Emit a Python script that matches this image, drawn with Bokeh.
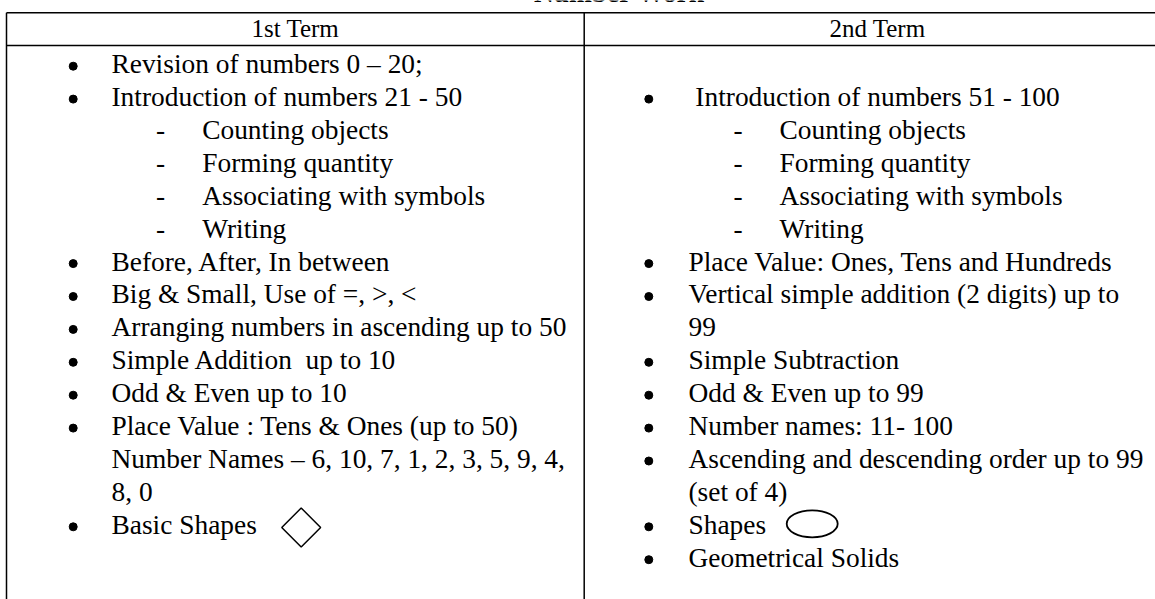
from bokeh.plotting import figure
from bokeh.models import Range1d, ColumnDataSource
from bokeh.core.properties import value
from bokeh.embed import file_html
from bokeh.resources import INLINE
import numpy as np

# ---------------- content ----------------
TITLE = "Number Work"
HEADERS = ["1st Term", "2nd Term"]

LEFT_ITEMS = [
    "Revision of numbers 0 \u2013 20;",
    "Introduction of numbers 21 - 50",
    "Counting objects",
    "Forming quantity",
    "Associating with symbols",
    "Writing",
    "Before, After, In between",
    "Big & Small, Use of =, >, <",
    "Arranging numbers in ascending up to 50",
    "Simple Addition \u00a0up to 10",
    "Odd & Even up to 10",
    "Place Value : Tens & Ones (up to 50)",
    "Number Names \u2013 6, 10, 7, 1, 2, 3, 5, 9, 4,",
    "8, 0",
    "Basic Shapes",
]
LEFT_KINDS = ["bullet", "bullet", "dash", "dash", "dash", "dash", "bullet", "bullet",
              "bullet", "bullet", "bullet", "bullet", "cont", "cont", "bullet"]

RIGHT_ITEMS = [
    "\u00a0Introduction of numbers 51 - 100",
    "Counting objects",
    "Forming quantity",
    "Associating with symbols",
    "Writing",
    "Place Value: Ones, Tens and Hundreds",
    "Vertical simple addition (2 digits) up to",
    "99",
    "Simple Subtraction",
    "Odd & Even up to 99",
    "Number names: 11- 100",
    "Ascending and descending order up to 99",
    "(set of 4)",
    "Shapes",
    "Geometrical Solids",
]
RIGHT_KINDS = ["bullet", "dash", "dash", "dash", "dash", "bullet", "bullet", "cont",
               "bullet", "bullet", "bullet", "bullet", "cont", "bullet", "bullet"]
RIGHT_FIRST_LINE = 1          # right column starts one line lower
LEFT_SHAPE_LINE = 14          # diamond after "Basic Shapes"
RIGHT_SHAPE_LINE = 14         # oval after "Shapes"

# ---------------- layout (pixels) ----------------
W, H = 1155, 599
FONT = "Liberation Serif"
BODY_SIZE = "27.4px"
HEAD_SIZE = "25px"
TDY = -9.7                    # correction of the rendered text baseline

TOP_Y = 12.3
HEAD_Y = 45.0
LEFT_X = 6.0
DIV_X = 583.7
LINE0 = 73.3
LH = 32.9

COLS = [
    dict(bullet=72.7, text=111.0, dash=155.5, sub=201.7),
    dict(bullet=648.3, text=688.0, dash=733.0, sub=779.0),
]


def base(i):
    return LINE0 + i * LH


p = figure(width=W, height=H, output_backend="svg", toolbar_location=None,
           x_range=Range1d(0, W), y_range=Range1d(H, 0),
           min_border=0, outline_line_color=None, background_fill_color="white",
           border_fill_color="white")
p.xaxis.visible = False
p.yaxis.visible = False
p.grid.visible = False

# table rules
p.segment(x0=[LEFT_X, LEFT_X, LEFT_X, DIV_X],
          y0=[TOP_Y, HEAD_Y, TOP_Y, TOP_Y],
          x1=[W + 5, W + 5, LEFT_X, DIV_X],
          y1=[TOP_Y, HEAD_Y, H + 5, H + 5],
          line_color="black", line_width=1.5)

# title (cut off at the top, as in the reference)
p.text(x=[619], y=[2.5 + TDY], text=[TITLE], text_font=value(FONT),
       text_font_size=BODY_SIZE, text_font_style="bold", text_align="center",
       text_baseline="alphabetic", text_color="black")

# headers
p.text(x=[(LEFT_X + DIV_X) / 2, 877], y=[37.7 + TDY, 37.7 + TDY],
       text=HEADERS, text_font=value(FONT), text_font_size=HEAD_SIZE,
       text_align="center", text_baseline="alphabetic", text_color="black")


def column(items, kinds, first, col):
    tx, ty, bx, by, dx, dy = [], [], [], [], [], []
    for k, (t, kind) in enumerate(zip(items, kinds)):
        yb = base(first + k)
        if kind == "bullet":
            bx.append(col["bullet"])
            by.append(yb - 7.6)
            tx.append(col["text"])
        elif kind == "dash":
            dx.append(col["dash"])
            dy.append(yb + TDY)
            tx.append(col["sub"])
        else:
            tx.append(col["text"])
        ty.append(yb + TDY)
    src = ColumnDataSource(dict(x=tx, y=ty, t=items))
    p.text(x="x", y="y", text="t", source=src, text_font=value(FONT),
           text_font_size=BODY_SIZE, text_baseline="alphabetic", text_color="black")
    p.scatter(x=bx, y=by, marker="circle", size=8, fill_color="black", line_color="black")
    p.text(x=dx, y=dy, text=["-"] * len(dx), text_font=value(FONT),
           text_font_size=BODY_SIZE, text_baseline="alphabetic", text_color="black")


column(LEFT_ITEMS, LEFT_KINDS, 0, COLS[0])
column(RIGHT_ITEMS, RIGHT_KINDS, RIGHT_FIRST_LINE, COLS[1])

# shapes
p.scatter(x=[300.7], y=[base(LEFT_SHAPE_LINE) - 6.9], marker="square",
          angle=np.pi / 4, size=27.5, fill_color=None, line_color="black", line_width=1.5)
p.ellipse(x=[811.7], y=[base(RIGHT_SHAPE_LINE) - 10.6], width=51, height=27,
          fill_color=None, line_color="black", line_width=1.8)

open("out.html", "w").write(file_html(p, INLINE))
